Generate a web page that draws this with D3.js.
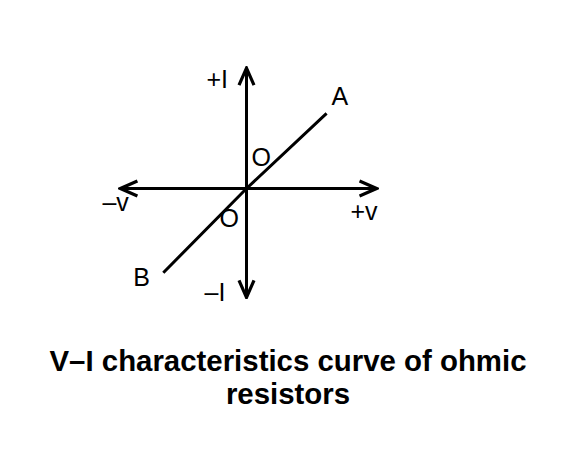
<!DOCTYPE html>
<html>
<head>
<meta charset="utf-8">
<script src="https://cdn.jsdelivr.net/npm/d3@7/dist/d3.min.js"></script>
<style>
  html, body { margin: 0; padding: 0; background: #fff; }
  svg { display: block; }
  text { font-family: "Liberation Sans", Arial, sans-serif; fill: #000; }
</style>
</head>
<body>
<svg id="chart" width="566" height="474"></svg>
<script>
// ---- data ----
const titleLines = ["V\u2013I characteristics curve of ohmic", "resistors"];
const axisLabels = ["+I", "\u2013I", "\u2013v", "+v"];
const axisV = [-4.85, 5.0];      // extent of the voltage axis
const axisI = [-4.19, 4.63];     // extent of the current axis
const curveV = [-3.2, 0, 3.08];  // line B–O–A : voltage
const curveI = [-3.24, 0, 2.89]; // line B–O–A : current
const pointLabels = ["A", "B", "O", "O"];

// ---- scales ----
const svg = d3.select("#chart");
const x = d3.scaleLinear().domain([-5, 5]).range([116.5, 376.5]);
const y = d3.scaleLinear().domain([-5, 5]).range([318.5, 58.5]);

// arrow marker (open chevron)
const defs = svg.append("defs");
defs.append("marker")
  .attr("id", "arr")
  .attr("viewBox", "0 0 20 20")
  .attr("refX", 18).attr("refY", 10)
  .attr("markerWidth", 20).attr("markerHeight", 20)
  .attr("markerUnits", "userSpaceOnUse")
  .attr("orient", "auto-start-reverse")
  .append("path")
  .attr("d", "M1,2.5 L18,10 L1,17.5")
  .attr("fill", "none")
  .attr("stroke", "#000")
  .attr("stroke-width", 3.2);

// axes
svg.append("line")
  .attr("x1", x(axisV[0])).attr("x2", x(axisV[1]))
  .attr("y1", y(0)).attr("y2", y(0))
  .attr("stroke", "#000").attr("stroke-width", 3)
  .attr("marker-start", "url(#arr)").attr("marker-end", "url(#arr)");
svg.append("line")
  .attr("x1", x(0)).attr("x2", x(0))
  .attr("y1", y(axisI[0])).attr("y2", y(axisI[1]))
  .attr("stroke", "#000").attr("stroke-width", 3)
  .attr("marker-start", "url(#arr)").attr("marker-end", "url(#arr)");

// characteristic line
const pts = curveV.map((v, i) => [v, curveI[i]]);
svg.append("path")
  .datum(pts)
  .attr("d", d3.line().x(d => x(d[0])).y(d => y(d[1])))
  .attr("fill", "none").attr("stroke", "#000").attr("stroke-width", 3);

// axis labels
const fs = 25;
const axisLabelPos = [
  [x(0) - 40, y(axisI[1]) + 20],  // +I
  [x(0) - 42, y(axisI[0]) + 4],   // –I
  [x(axisV[0]) - 18, y(0) + 22],  // –v
  [x(axisV[1]) - 26, y(0) + 31]   // +v
];
svg.selectAll("text.ax").data(axisLabels).join("text")
  .attr("class", "ax")
  .attr("x", (d, i) => axisLabelPos[i][0])
  .attr("y", (d, i) => axisLabelPos[i][1])
  .attr("font-size", fs)
  .text(d => d);

// point labels
const last = curveV.length - 1;
const pointLabelPos = [
  [x(curveV[last]) + 5, y(curveI[last]) - 8],  // A
  [x(curveV[0]) - 30, y(curveI[0]) + 13],      // B
  [x(0) + 5, y(0) - 23],                       // O upper
  [x(0) - 27, y(0) + 38]                       // O lower
];
svg.selectAll("text.pt").data(pointLabels).join("text")
  .attr("class", "pt")
  .attr("x", (d, i) => pointLabelPos[i][0])
  .attr("y", (d, i) => pointLabelPos[i][1])
  .attr("font-size", fs)
  .text(d => d);

// title
svg.selectAll("text.title").data(titleLines).join("text")
  .attr("class", "title")
  .attr("x", 288)
  .attr("y", (d, i) => 371 + i * 33)
  .attr("text-anchor", "middle")
  .attr("font-size", 29.4)
  .attr("font-weight", "bold")
  .text(d => d);
</script>
</body>
</html>
